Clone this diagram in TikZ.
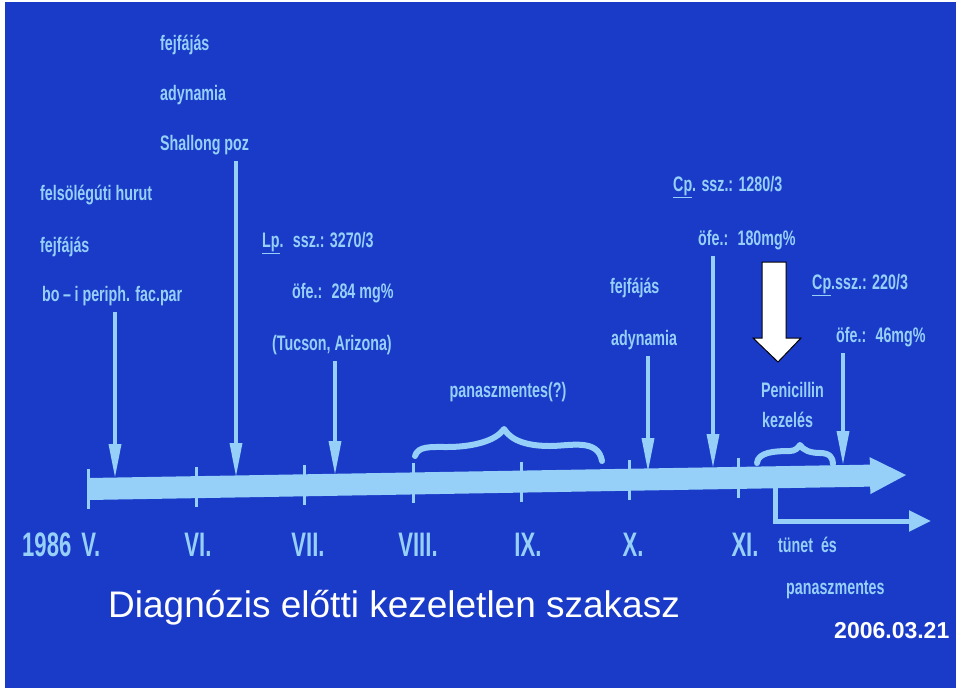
\documentclass[tikz,border=0pt]{standalone}
\usepackage{fontspec}
\setmainfont{Liberation Sans}
\newfontfamily\scanfont[FakeStretch=0.68]{Liberation Sans}
\newfontfamily\monthfont[FakeStretch=0.65]{Liberation Sans}
\usetikzlibrary{arrows.meta}
\definecolor{slideblue}{RGB}{26,58,200}
\definecolor{chalk}{RGB}{150,208,248}

\tikzset{
  note/.style={anchor=west, inner sep=0pt, text=chalk,
    font=\scanfont\bfseries\fontsize{21}{21}\selectfont},
  month/.style={anchor=center, inner sep=0pt, text=chalk,
    font=\monthfont\bfseries\fontsize{34}{34}\selectfont},
  pointer/.style={draw=chalk, line width=3.5pt, shorten <=6pt,
    -{Triangle[width=12pt,length=34pt]}},
  timebar/.style={draw=chalk, line width=22pt,
    -{Triangle[width=34pt,length=37pt]}},
  branch/.style={draw=chalk, line width=5pt,
    -{Triangle[width=20pt,length=22pt]}},
  tick/.style={draw=chalk, line width=3pt},
  brace/.style={draw=chalk, line width=6pt, line cap=round, line join=round},
}

\begin{document}
\begin{tikzpicture}[x=1pt,y=-1pt]
\useasboundingbox (0,0) rectangle (960,691);
\fill[slideblue] (5,2) rectangle (956,688);

% timeline
\coordinate (start) at (88,489);
\coordinate (end) at (907,475);
\draw[timebar] (start) -- (end);
\foreach \x in {88,196,304,413,521,629,738}
  \draw[tick] (\x,{489-0.0171*(\x-88)-20}) -- ++(0,40);

% second branch
\coordinate (split) at (775,486);
\coordinate (branchend) at (931,521);
\draw[branch] (split) |- (branchend);

% months
\node[month, anchor=west] (may) at (22,545) {1986\hspace{10pt}V.};
\node[month] (jun) at (198,545) {VI.};
\node[month] (jul) at (308,545) {VII.};
\node[month] (aug) at (418,545) {VIII.};
\node[month] (sep) at (528,545) {IX.};
\node[month] (oct) at (633,545) {X.};
\node[month] (nov) at (745,545) {XI.};

% notes
\node[note] (felso) at (40,195) {felsölégúti hurut};
\node[note] (fejfaA) at (40,247) {fejfájás};
\node[note] (boi) at (42,296) {bo\,–\,i periph. fac.par};
\node[note] (fejfaB) at (160,45) {fejfájás};
\node[note] (adynA) at (160,95) {adynamia};
\node[note] (shal) at (160,145) {Shallong poz};
\node[note] (lp) at (262,243) {\underline{Lp}. \ ssz.: 3270/3};
\node[note] (ofeA) at (292,293) {öfe.: \ 284 mg\%};
\node[note] (tucson) at (272,345) {(Tucson, Arizona)};
\node[note, anchor=center] (panaszA) at (508,392) {panaszmentes(?)};
\node[note] (fejfaC) at (610,288) {fejfájás};
\node[note] (adynB) at (611,340) {adynamia};
\node[note] (cpA) at (673,187) {\underline{Cp}. ssz.: 1280/3};
\node[note] (ofeB) at (698,240) {öfe.: \ 180mg\%};
\node[note] (cpB) at (812,285) {\underline{Cp}.ssz.: 220/3};
\node[note] (ofeC) at (836,337) {öfe.: \ 46mg\%};
\node[note] (penic) at (761,390) {Penicillin};
\node[note] (kezel) at (762,420) {kezelés};
\node[note] (tunet) at (778,545) {tünet \ és};
\node[note] (panaszB) at (786,590) {panaszmentes};

% pointers onto the bar
\coordinate (hitA) at (115,478);
\coordinate (hitB) at (236,477);
\coordinate (hitC) at (335,475);
\coordinate (hitD) at (648,472);
\coordinate (hitE) at (713,468);
\coordinate (hitF) at (843,465);
\draw[pointer] (boi.south -| hitA) -- (hitA);
\draw[pointer] (shal.south -| hitB) -- (hitB);
\draw[pointer] (tucson.south -| hitC) -- (hitC);
\draw[pointer] (adynB.south -| hitD) -- (hitD);
\draw[pointer] (ofeB.south -| hitE) -- (hitE);
\draw[pointer] (ofeC.south -| hitF) -- (hitF);

% braces
\draw[brace] (415,456) .. controls (418,446) and (430,447) .. (447,447)
  .. controls (470,447) and (495,442) .. (504,429)
  .. controls (512,442) and (530,446) .. (550,446)
  .. controls (570,446) and (598,438) .. (602,461);
\draw[brace] (757,463) .. controls (758,452) and (775,451) .. (790,451)
  .. controls (795,451) and (798,448) .. (800,445)
  .. controls (803,450) and (810,453) .. (820,453)
  .. controls (830,453) and (833,458) .. (833,464);

% big white arrow
\draw[fill=white, draw=black, line width=1pt, line join=miter]
  (762,262) -- (786,262) -- (786,338) -- (801,338) -- (778,362)
  -- (753,338) -- (762,338) -- cycle;

% slide texts
\node[anchor=base west, inner sep=0pt, text=white,
  font=\fontsize{37}{37}\selectfont] (title) at (108,617)
  {Diagnózis előtti kezeletlen szakasz};
\node[anchor=base west, inner sep=0pt, text=white,
  font=\bfseries\fontsize{23}{23}\selectfont] (date) at (834,638)
  {2006.03.21};
\end{tikzpicture}
\end{document}
